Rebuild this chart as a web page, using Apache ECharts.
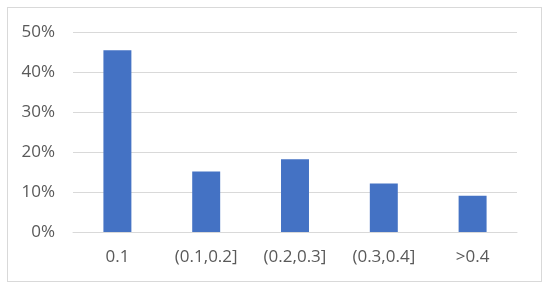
<!DOCTYPE html>
<html>
<head>
<meta charset="utf-8">
<script src="https://cdn.jsdelivr.net/npm/echarts@6/dist/echarts.min.js"></script>
<style>
  html, body { margin: 0; padding: 0; background: #fff; }
  #frame { position: absolute; left: 7px; top: 7px; width: 533px; height: 273px; border: 1px solid #d9d9d9; }
  #chart { position: absolute; left: 0; top: 0; width: 550px; height: 293px; }
</style>
</head>
<body>
<div id="frame"></div>
<div id="chart"></div>
<script>
var categories = ['0.1', '(0.1,0.2]', '(0.2,0.3]', '(0.3,0.4]', '>0.4'];
var shares = [45.45, 15.15, 18.18, 12.12, 9.09];
var yTicks = [0, 10, 20, 30, 40, 50];

var chartDom = document.getElementById('chart');
var myChart = echarts.init(chartDom, null, { renderer: 'canvas' });

var option = {
  backgroundColor: 'transparent',
  animation: false,
  grid: {
    left: 73,
    right: 33,
    top: 32,
    bottom: 61
  },
  xAxis: {
    type: 'category',
    data: categories,
    axisLine: { show: true, lineStyle: { color: '#d9d9d9', width: 1 } },
    axisTick: { show: false },
    axisLabel: {
      color: '#595959',
      fontFamily: 'Open Sans',
      fontSize: 17,
      margin: 17
    }
  },
  yAxis: {
    type: 'value',
    min: yTicks[0],
    max: yTicks[yTicks.length - 1],
    interval: 10,
    axisLine: { show: false },
    axisTick: { show: false },
    splitLine: { lineStyle: { color: '#d9d9d9', width: 1 } },
    axisLabel: {
      color: '#595959',
      fontFamily: 'Open Sans',
      fontSize: 17,
      margin: 18,
      formatter: function (v) { return v + '%'; }
    }
  },
  series: [{
    type: 'bar',
    data: shares,
    barWidth: '31.5%',
    itemStyle: { color: '#4472c4' }
  }]
};

myChart.setOption(option);
</script>
</body>
</html>
